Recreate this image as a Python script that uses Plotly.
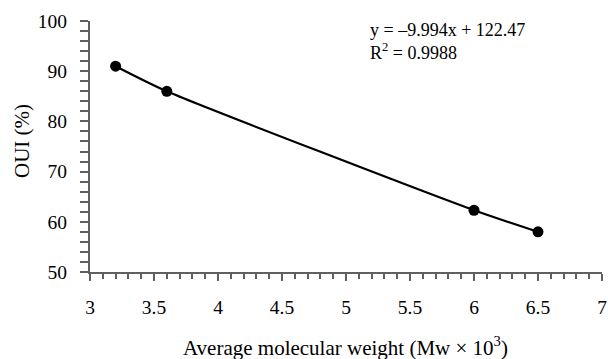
import plotly.graph_objects as go

mw = [3.2, 3.6, 6.0, 6.5]
oui = [91.0, 86.0, 62.3, 58.0]
x_ticks = [3, 3.5, 4, 4.5, 5, 5.5, 6, 6.5, 7]
y_ticks = [50, 60, 70, 80, 90, 100]

FONT = "Liberation Serif"
AX = "#606060"

fig = go.Figure()
fig.add_trace(go.Scatter(
    x=mw, y=oui, mode="lines+markers",
    line=dict(color="black", width=2.2, shape="spline", smoothing=0.6),
    marker=dict(color="black", size=11),
    showlegend=False,
))

fig.update_layout(
    width=608, height=359,
    margin=dict(l=90, r=6, t=21, b=87, autoexpand=False),
    plot_bgcolor="white", paper_bgcolor="white",
    font=dict(family=FONT, size=19.5, color="black"),
    xaxis=dict(
        range=[3, 7], tickvals=x_ticks, ticktext=[str(v) for v in x_ticks],
        showgrid=False, zeroline=False, automargin=False,
        showline=True, linecolor=AX, linewidth=2,
        ticks="outside", ticklen=7, tickwidth=2, tickcolor=AX,
        minor=dict(dtick=0.1, ticks="outside", ticklen=5, tickwidth=1.5, tickcolor=AX),
        ticklabelstandoff=10,
    ),
    yaxis=dict(
        range=[50, 100], tickvals=y_ticks,
        showgrid=False, zeroline=False, automargin=False,
        showline=True, linecolor=AX, linewidth=2,
        ticks="outside", ticklen=8, tickwidth=2, tickcolor=AX,
        minor=dict(dtick=2, ticks="outside", ticklen=8, tickwidth=2, tickcolor=AX),
        ticklabelstandoff=9,
    ),
    annotations=[
        dict(xref="paper", yref="paper", x=(368 - 90) / 512, y=(272 - 30) / 251,
             xanchor="left", yanchor="middle", showarrow=False,
             text="y = –9.994x + 122.47", font=dict(family=FONT, size=18, color="black")),
        dict(xref="paper", yref="paper", x=(368 - 90) / 512, y=(272 - 51) / 251,
             xanchor="left", yanchor="middle", showarrow=False,
             text="R<sup>2</sup> = 0.9988", font=dict(family=FONT, size=18, color="black")),
        dict(xref="paper", yref="paper", x=(345 - 90) / 512, y=(272 - 346) / 251,
             xanchor="center", yanchor="middle", showarrow=False,
             text="Average molecular weight (Mw × 10<sup>3</sup>)",
             font=dict(family=FONT, size=21, color="black")),
        dict(xref="paper", yref="paper", x=(22 - 90) / 512, y=(272 - 141) / 251,
             xanchor="center", yanchor="middle", showarrow=False, textangle=-90,
             text="OUI (%)", font=dict(family=FONT, size=21, color="black")),
    ],
)

fig.write_html(
    "out.html",
    config={"displayModeBar": False},
    post_script="document.body.style.margin='0';document.body.style.overflow='hidden';",
)
